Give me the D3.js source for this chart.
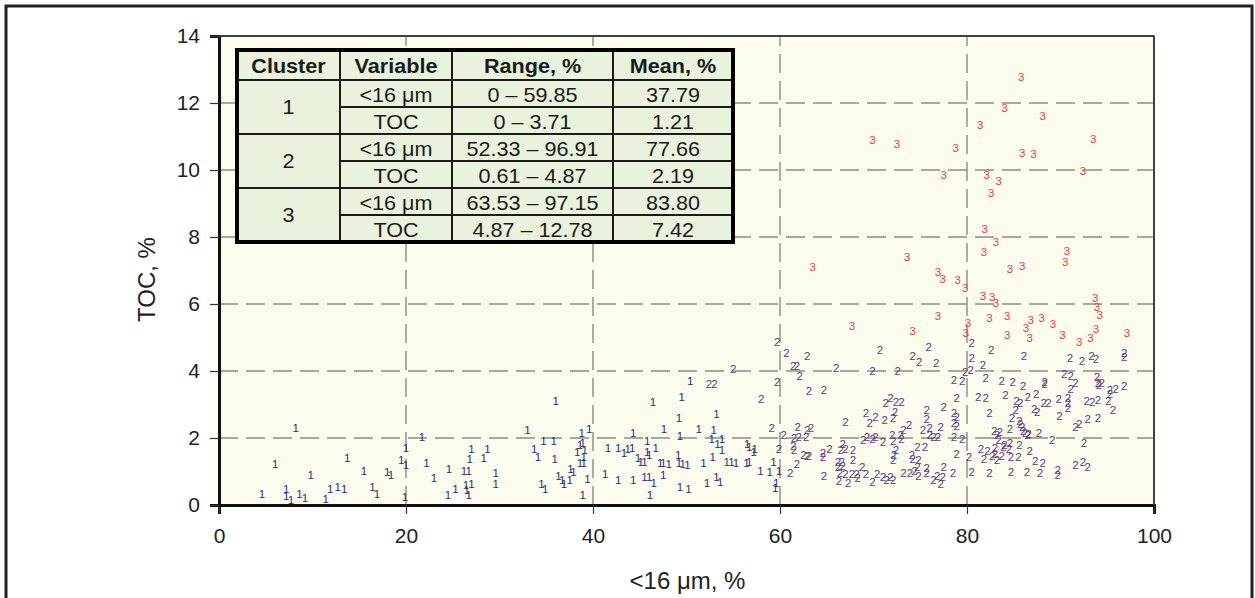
<!DOCTYPE html>
<html><head><meta charset="utf-8">
<script src="https://cdn.jsdelivr.net/npm/d3@7"></script>
<style>body{margin:0;background:#fff;}svg{display:block;}</style>
</head><body>
<svg id="chart" width="1255" height="598"></svg>
<script>
// ---- data ----
const xTicks = [0, 20, 40, 60, 80, 100];
const yTicks = [0, 2, 4, 6, 8, 10, 12, 14];
const xTitle = "<16 μm, %";
const yTitle = "TOC, %";
const clusterLabels = ["1", "2", "3"];
const clusterColors = ["#2d2e7a", "#5c3b85", "#f23a3a"];

const cluster1 = [[4.6,0.33],[6.0,1.22],[7.2,0.48],[7.2,0.27],[7.7,0.15],[8.2,2.30],[8.6,0.33],[9.2,0.21],[9.8,0.90],[11.4,0.18],[11.9,0.48],[12.7,0.54],[13.4,0.48],[13.7,1.40],[15.5,1.01],[16.4,0.54],[16.9,0.33],[18.0,0.99],[18.4,0.90],[19.5,1.34],[20.0,1.19],[20.0,1.70],[19.9,0.24],[21.7,2.03],[22.2,1.25],[23.0,0.81],[24.6,1.07],[24.5,0.30],[25.3,0.48],[26.2,1.01],[26.7,1.01],[27.0,1.67],[28.7,1.67],[26.8,1.37],[28.3,1.40],[26.4,0.60],[27.0,0.63],[26.5,0.45],[26.7,0.30],[29.6,0.96],[29.6,0.63],[33.0,2.24],[36.0,3.10],[33.7,1.67],[34.1,1.43],[34.7,1.91],[35.8,1.91],[35.9,1.37],[34.5,0.63],[34.9,0.48],[36.3,0.87],[36.7,0.75],[36.9,0.63],[37.5,0.75],[37.6,1.07],[37.9,0.99],[38.8,2.15],[39.6,2.27],[38.6,1.79],[38.9,1.85],[38.3,1.58],[39.1,1.64],[39.0,1.43],[38.6,1.25],[39.0,1.25],[39.4,0.78],[38.9,0.30],[41.6,1.70],[42.7,1.70],[41.3,0.93],[42.7,0.75],[43.3,1.55],[43.7,1.67],[44.2,1.70],[44.3,2.15],[44.3,0.75],[44.8,1.40],[45.1,1.28],[45.5,1.28],[45.5,0.84],[45.8,1.91],[45.8,1.58],[46.0,1.49],[46.0,0.84],[46.1,0.30],[46.4,3.07],[46.5,0.66],[46.7,1.70],[47.2,1.25],[47.5,1.25],[47.5,0.90],[47.6,2.27],[48.1,1.22],[49.1,1.49],[49.2,2.60],[49.2,1.25],[49.3,2.06],[49.3,0.54],[49.5,3.22],[49.6,1.22],[50.1,1.19],[50.2,0.48],[50.4,3.70],[51.3,2.27],[51.8,1.25],[52.2,0.66],[52.7,1.97],[52.8,1.43],[52.9,2.24],[53.2,2.72],[53.2,0.84],[53.3,1.82],[53.6,0.69],[53.8,1.97],[53.8,1.64],[54.3,1.28],[54.8,1.28],[55.3,1.25],[56.4,1.25],[56.7,1.28],[56.5,1.82],[56.7,1.73],[57.2,1.58],[57.3,1.67],[57.9,1.01],[58.9,0.99],[59.3,1.28],[59.9,1.01],[59.6,0.66],[59.5,0.51]];

const cluster2 = [[55.0,4.06],[52.4,3.61],[53.0,3.61],[58.0,3.16],[59.7,4.87],[60.7,4.54],[62.9,4.45],[61.4,4.15],[61.8,4.15],[62.1,3.85],[66.0,4.09],[69.9,4.00],[72.6,4.00],[70.7,4.63],[74.2,4.45],[74.9,4.27],[75.9,4.72],[76.7,4.24],[59.7,3.67],[63.1,3.40],[64.7,3.43],[59.1,2.30],[60.4,2.09],[61.9,2.33],[63.3,2.30],[62.9,2.24],[61.5,2.00],[62.0,2.03],[62.8,2.03],[59.9,1.67],[61.4,1.76],[61.5,1.64],[62.5,1.49],[62.9,1.46],[63.1,1.46],[64.6,1.55],[64.6,1.43],[65.3,1.67],[61.8,1.22],[61.1,0.96],[67.0,2.48],[66.2,1.28],[66.6,1.28],[66.2,1.13],[66.7,1.16],[64.7,0.87],[66.7,1.82],[66.5,1.64],[67.0,1.67],[67.8,1.64],[67.8,1.34],[68.8,1.13],[66.4,0.96],[67.0,0.93],[67.7,0.93],[68.2,0.93],[69.2,0.93],[70.4,0.93],[71.0,0.84],[71.8,0.84],[66.3,0.72],[67.3,0.66],[68.3,0.81],[69.9,0.69],[71.4,0.75],[72.1,0.75],[69.2,2.75],[70.2,2.63],[69.6,2.45],[71.2,2.54],[72.1,2.60],[72.3,2.78],[71.3,3.04],[71.8,3.19],[72.4,3.07],[73.0,3.07],[69.3,2.03],[70.2,2.03],[68.9,1.94],[69.9,1.97],[71.0,1.88],[72.0,2.09],[72.1,1.91],[73.0,1.97],[73.2,2.24],[73.8,2.39],[72.9,2.09],[72.4,1.64],[72.2,1.49],[72.1,1.34],[73.2,0.96],[73.9,0.96],[74.4,1.01],[74.8,0.87],[75.7,1.10],[75.7,0.96],[76.4,0.75],[76.8,0.87],[77.4,0.84],[77.2,0.63],[77.5,1.13],[78.5,0.96],[74.1,1.49],[74.2,1.37],[74.8,1.34],[74.7,1.13],[74.7,1.73],[75.5,1.73],[75.3,2.24],[76.0,2.30],[76.0,2.09],[76.4,2.03],[76.9,2.03],[77.2,2.33],[75.7,2.84],[75.7,2.57],[77.5,2.93],[78.6,3.73],[78.6,2.75],[78.9,2.63],[78.6,2.45],[78.9,2.36],[78.6,2.03],[78.9,3.19],[78.9,1.52],[80.5,4.84],[82.6,4.63],[80.5,4.39],[81.7,4.18],[80.4,4.03],[79.8,3.97],[86.1,4.45],[91.0,4.39],[92.3,4.30],[93.3,4.45],[93.8,4.36],[96.8,4.54],[96.8,4.42],[79.5,3.70],[82.0,3.79],[83.7,3.70],[84.9,3.67],[86.0,3.55],[88.3,3.67],[88.3,3.61],[90.4,3.91],[91.1,3.85],[91.6,3.64],[91.1,3.46],[93.9,3.82],[94.0,3.64],[94.4,3.64],[94.1,3.58],[95.3,3.43],[95.9,3.46],[96.8,3.55],[95.3,3.31],[81.2,3.22],[82.0,3.19],[84.1,3.28],[85.3,3.10],[85.7,3.04],[85.2,2.84],[86.5,3.22],[87.4,3.31],[87.2,2.87],[87.5,2.78],[88.2,3.04],[88.7,3.04],[89.8,3.16],[90.8,3.19],[90.8,3.04],[90.8,2.90],[92.8,3.10],[93.4,3.07],[94.0,3.13],[95.1,3.10],[95.6,2.84],[82.4,2.75],[89.9,2.66],[91.6,2.33],[92.0,2.42],[92.9,2.57],[94.0,2.60],[84.8,2.60],[85.6,2.51],[85.7,2.42],[85.9,2.33],[86.0,2.21],[84.6,2.27],[82.9,2.21],[83.5,2.18],[83.2,2.09],[86.2,2.15],[86.6,2.12],[87.7,2.15],[86.5,2.09],[83.4,1.94],[84.0,1.79],[83.0,1.70],[84.6,1.85],[85.6,1.79],[84.5,1.67],[89.1,1.94],[92.5,1.85],[79.5,1.97],[80.2,1.43],[81.5,1.67],[82.2,1.61],[81.8,1.37],[82.7,1.46],[83.0,1.52],[83.2,1.34],[83.7,1.46],[83.9,1.73],[84.7,1.43],[85.5,1.43],[86.7,1.61],[87.3,1.31],[80.5,0.99],[82.4,0.96],[84.7,0.99],[86.4,0.99],[87.8,0.96],[88.1,1.25],[89.7,1.04],[89.7,0.90],[91.6,1.19],[92.4,1.28],[92.9,1.13]];

const cluster3 = [[85.8,12.78],[84.0,11.85],[88.1,11.61],[81.4,11.34],[69.9,10.90],[72.5,10.78],[78.8,10.66],[85.9,10.51],[87.1,10.48],[93.5,10.93],[92.4,9.97],[77.5,9.85],[82.1,9.85],[83.4,9.67],[82.6,9.31],[81.9,8.24],[83.1,7.85],[81.8,7.55],[63.5,7.10],[73.6,7.40],[76.9,6.96],[77.4,6.75],[79.0,6.72],[79.8,6.48],[84.6,7.04],[85.9,7.13],[90.7,7.58],[90.5,7.25],[81.7,6.24],[82.7,6.21],[83.1,6.03],[93.7,6.18],[93.9,5.91],[94.2,5.67],[67.7,5.34],[74.2,5.19],[76.9,5.64],[80.1,5.43],[79.9,5.13],[82.4,5.58],[84.3,5.64],[84.3,5.07],[86.3,5.28],[86.8,5.52],[86.7,4.99],[88.0,5.58],[89.2,5.40],[90.2,5.07],[92.0,4.87],[93.2,4.99],[93.8,5.25],[97.1,5.13]];

const tableHeader = ["Cluster", "Variable", "Range, %", "Mean, %"];
const tableClusters = ["1", "2", "3"];
const tableVariables = ["<16 μm", "TOC", "<16 μm", "TOC", "<16 μm", "TOC"];
const tableRanges = ["0 – 59.85", "0 – 3.71", "52.33 – 96.91", "0.61 – 4.87", "63.53 – 97.15", "4.87 – 12.78"];
const tableMeans = ["37.79", "1.21", "77.66", "2.19", "83.80", "7.42"];

// ---- layout ----
const FONT = "Arial, 'Liberation Sans', Helvetica, sans-serif";
const svg = d3.select("#chart");
const L = 219, R = 1154, T = 36, B = 505;
const x = d3.scaleLinear().domain([0, 100]).range([L, R]);
const y = d3.scaleLinear().domain([0, 14]).range([B, T]);

// outer frame
svg.append("rect").attr("x", 0).attr("y", 0).attr("width", 1255).attr("height", 598).attr("fill", "#fff");
svg.append("rect").attr("x", 6).attr("y", 6).attr("width", 1246).attr("height", 610)
  .attr("fill", "none").attr("stroke", "#222").attr("stroke-width", 3);

// plot background
svg.append("rect").attr("x", L).attr("y", T).attr("width", R - L).attr("height", B - T)
  .attr("fill", "#fcfcee").attr("stroke", "#333").attr("stroke-width", 1.5);

// gridlines
const grid = svg.append("g").attr("stroke", "#8c8c84").attr("stroke-width", 1.4).attr("stroke-dasharray", "19,8");
grid.selectAll("line.v").data(xTicks.filter(d => d > 0 && d < 100)).join("line")
  .attr("class", "v").attr("x1", d => x(d)).attr("x2", d => x(d)).attr("y1", B).attr("y2", T);
grid.selectAll("line.h").data(yTicks.filter(d => d > 0 && d < 14)).join("line")
  .attr("class", "h").attr("x1", L).attr("x2", R).attr("y1", d => y(d)).attr("y2", d => y(d));

// points
const clusters = [cluster1, cluster2, cluster3];
clusters.forEach((pts, i) => {
  svg.append("g").selectAll("text").data(pts).join("text")
    .attr("x", d => x(d[0])).attr("y", d => y(d[1]))
    .attr("text-anchor", "middle").attr("dominant-baseline", "central")
    .attr("font-family", FONT).attr("font-size", 11.5)
    .attr("fill", clusterColors[i]).text(clusterLabels[i]);
});

// axes
const xAxis = svg.append("g").attr("transform", `translate(0,${B})`)
  .call(d3.axisBottom(x).tickValues(xTicks).tickSize(9).tickPadding(14).tickFormat(d3.format("d")));
const yAxis = svg.append("g").attr("transform", `translate(${L},0)`)
  .call(d3.axisLeft(y).tickValues(yTicks).tickSize(9).tickPadding(10).tickFormat(d3.format("d")));
[xAxis, yAxis].forEach(a => {
  a.select(".domain").attr("stroke", "#111").attr("stroke-width", 3);
  a.selectAll(".tick line").attr("stroke", "#333").attr("stroke-width", 1.2);
  a.selectAll(".tick text").attr("font-family", FONT).attr("font-size", 21).attr("fill", "#222");
});
// top/right frame above data
svg.append("line").attr("x1", L).attr("x2", R).attr("y1", T).attr("y2", T).attr("stroke", "#333").attr("stroke-width", 1.5);
svg.append("line").attr("x1", R).attr("x2", R).attr("y1", T).attr("y2", B).attr("stroke", "#333").attr("stroke-width", 1.5);

// titles
svg.append("text").attr("x", (L + R) / 2 + 1).attr("y", 589).attr("text-anchor", "middle")
  .attr("font-family", FONT).attr("font-size", 24).attr("fill", "#222").text(xTitle);
svg.append("text").attr("transform", `translate(155,${(T + B) / 2 + 9}) rotate(-90)`).attr("text-anchor", "middle")
  .attr("font-family", FONT).attr("font-size", 24).attr("fill", "#222").text(yTitle);

// table
const colX = [237, 340, 452, 613, 733];
const rowY = [50, 80, 107, 134, 161, 188, 215, 242];
const tbl = svg.append("g");
tbl.append("rect").attr("x", colX[0]).attr("y", rowY[0]).attr("width", colX[4] - colX[0]).attr("height", rowY[7] - rowY[0])
  .attr("fill", "#e8f2dc");
const inner = tbl.append("g").attr("stroke", "#1a1a1a").attr("stroke-width", 2);
[1, 2, 3].forEach(c => inner.append("line").attr("x1", colX[c]).attr("x2", colX[c]).attr("y1", rowY[0]).attr("y2", rowY[7]));
[1, 3, 5].forEach(r => inner.append("line").attr("x1", colX[0]).attr("x2", colX[4]).attr("y1", rowY[r]).attr("y2", rowY[r]));
[2, 4, 6].forEach(r => inner.append("line").attr("x1", colX[1]).attr("x2", colX[4]).attr("y1", rowY[r]).attr("y2", rowY[r]));
tbl.append("rect").attr("x", colX[0]).attr("y", rowY[0]).attr("width", colX[4] - colX[0]).attr("height", rowY[7] - rowY[0])
  .attr("fill", "none").attr("stroke", "#000").attr("stroke-width", 4);
const cellText = (cx, cy, t, bold) => tbl.append("text")
  .attr("transform", `translate(${cx},${cy}) scale(1.08,1)`)
  .attr("text-anchor", "middle").attr("dominant-baseline", "central")
  .attr("font-family", FONT).attr("font-size", 20).attr("font-weight", bold ? "bold" : "normal")
  .attr("fill", "#1a1a1a").text(t);
tableHeader.forEach((h, i) => cellText((colX[i] + colX[i + 1]) / 2, (rowY[0] + rowY[1]) / 2 + 1, h, true));
tableClusters.forEach((c, i) => cellText((colX[0] + colX[1]) / 2, rowY[1 + 2 * i + 1], c, false));
for (let r = 0; r < 6; r++) {
  const cy = (rowY[r + 1] + rowY[r + 2]) / 2 + 1;
  cellText((colX[1] + colX[2]) / 2, cy, tableVariables[r], false);
  cellText((colX[2] + colX[3]) / 2, cy, tableRanges[r], false);
  cellText((colX[3] + colX[4]) / 2, cy, tableMeans[r], false);
}
</script>
</body></html>
